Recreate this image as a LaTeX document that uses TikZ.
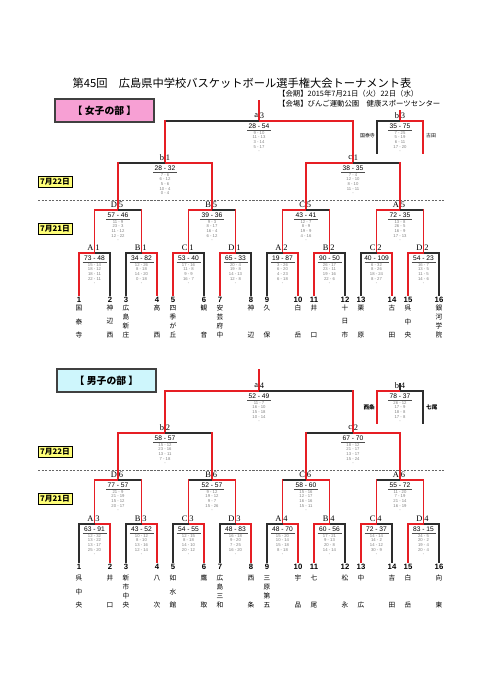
\documentclass[tikz,border=0pt]{standalone}
\usepackage{fontspec}
\setmainfont{Liberation Sans}
\newfontfamily\jpfont{Noto Sans CJK JP}
\newfontfamily\serfont{Liberation Serif}
\usepackage{tikz}
\usetikzlibrary{positioning, calc}

\definecolor{wred}{RGB}{230,30,36}
\definecolor{wgray}{RGB}{45,45,45}
\definecolor{pinkbox}{RGB}{247,160,212}
\definecolor{cyanbox}{RGB}{206,246,252}
\definecolor{daybox}{RGB}{255,255,120}

% bracket: centre, half width, y, foot, left/right bar, left/right leg
\newcommand{\bout}[8]{%
  \draw[bar, line cap=butt, #5] (#1-#2,#3) -- (#1,#3);
  \draw[bar, line cap=butt, #6] (#1,#3) -- (#1+#2,#3);
  \draw[bar, line cap=rect, #7] (#1-#2,#3) -- (#1-#2,#4);
  \draw[bar, line cap=rect, #8] (#1+#2,#3) -- (#1+#2,#4);}
% texts: centre, y, letter, number, score, quarters
\newcommand{\tally}[6]{%
  \node[tag, anchor=east] (l#3#4) at (#1-0.8,#2-5) {#3};
  \node[tag, anchor=west] (n#3#4) at (#1+0.8,#2-5) {#4};
  \node[score] (s#3#4) at (#1,#2+4.8) {#5};
  \draw[rule] (#1-12,#2+9) -- (#1+12,#2+9);
  \node[quart] (q#3#4) at (#1,#2+10.3) {#6};}

\begin{document}
\begin{tikzpicture}[x=0.5mm, y=-0.5mm,
  bar/.style={line width=1.7pt},
  tag/.style={font=\serfont\fontsize{12}{12}\selectfont, inner sep=0pt},
  score/.style={font=\fontsize{9.5}{9.5}\selectfont, inner sep=0pt},
  rule/.style={line width=0.5pt, black!70},
  quart/.style={anchor=north, align=center, inner sep=0pt, text=black!50, font=\fontsize{6}{6.5}\selectfont},
  num/.style={font=\bfseries\fontsize{11}{11}\selectfont, inner sep=0pt},
  kanji/.style={font=\jpfont\fontsize{9.5}{9.5}\selectfont, inner sep=0pt},
  day/.style={draw=black, line width=1pt, fill=daybox, inner sep=0pt, minimum width=17mm, minimum height=5.5mm, font=\jpfont\bfseries\fontsize{11}{11}\selectfont},
  sect/.style={draw=black!75, line width=2pt, minimum width=49.5mm, minimum height=11.5mm, font=\jpfont\bfseries\fontsize{14}{14}\selectfont},
  cut/.style={dash pattern=on 3pt off 2pt, line width=0.7pt, black!60},
  side/.style={font=\jpfont\fontsize{7}{7}\selectfont, inner sep=0pt},
  info/.style={font=\jpfont\fontsize{10.5}{10.5}\selectfont, inner sep=0pt, anchor=west}]
  \fill[white] (0,0) rectangle (481,680);
  \useasboundingbox (0,0) rectangle (481,680);

  % Title
  \node[font=\jpfont\fontsize{16}{16}\selectfont, inner sep=0pt] (head) at (242,83) {第45回　広島県中学校バスケットボール選手権大会トーナメント表};
  \node[info] (when) at (278,94) {【会期】2015年7月21日（火）22日（水）};
  \node[info] (where) at (278,104) {【会場】びんご運動公園　健康スポーツセンター};

  % Girls
  \node[sect, fill=pinkbox] (girls) at (104.5,110.5) {【 女子の部 】};
  \node[day] (g22) at (55,182) {7月22日};
  \node[day] (g21) at (55,228.5) {7月21日};
  \draw[cut] (38,200) -- (445,200);
  \draw[bar, wred] (259,100) -- (259,121);
  \draw[bar, wred] (400,110) -- (400,121);
  \node[side, anchor=east] (gl3) at (375,136) {国泰寺};
  \node[side, anchor=west] (gr3) at (426,136) {古田};

  \foreach \cx/\hw/\cy/\ft/\hl/\hr/\lt/\nr/\sc/\qs in {
    259/94/121/163/wgray/wred/a/3/28 - 54/{9 - 10\\11 - 13\\3 - 14\\5 - 17\\-},
    165/47/163/210/wgray/wred/b/1/28 - 32/{7 - 6\\6 - 12\\5 - 6\\10 - 4\\0 - 4},
    353/47/163/210/wred/wgray/c/1/38 - 35/{7 - 4\\12 - 10\\8 - 10\\11 - 11\\-},
    118/23.5/210/253/wred/wgray/D/5/57 - 46/{11 - 9\\23 - 3\\11 - 12\\12 - 22\\-},
    212/23.5/210/253/wred/wgray/B/5/39 - 36/{9 - 3\\8 - 17\\16 - 4\\6 - 12\\-},
    306/23.5/210/253/wred/wgray/C/5/43 - 41/{12 - 7\\8 - 9\\19 - 9\\4 - 16\\-},
    400/23.5/210/253/wred/wgray/A/5/72 - 35/{13 - 8\\26 - 5\\16 - 9\\17 - 13\\-}} {
    \bout{\cx}{\hw}{\cy}{\ft}{\hl}{\hr}{wred}{wred}
    \tally{\cx}{\cy}{\lt}{\nr}{\sc}{\qs}
  }
  \foreach \cx/\hw/\cy/\ft/\hl/\hr/\lt/\nr/\sc/\qs in {
    400/23/121/153/wgray/wred/b/3/35 - 75/{7 - 25\\5 - 19\\6 - 11\\17 - 20\\-},
    94.5/15.5/253/295/wred/wgray/A/1/73 - 48/{15 - 14\\18 - 12\\18 - 11\\22 - 11\\-},
    141.5/15.5/253/295/wgray/wred/B/1/34 - 82/{12 - 26\\8 - 18\\14 - 20\\0 - 18\\-},
    188.5/15.5/253/295/wred/wgray/C/1/53 - 40/{17 - 16\\11 - 8\\9 - 9\\16 - 7\\-},
    235.5/15.5/253/295/wred/wgray/D/1/65 - 33/{20 - 4\\19 - 8\\14 - 13\\12 - 8\\-},
    282.5/15.5/253/295/wgray/wred/A/2/19 - 87/{3 - 26\\6 - 20\\4 - 23\\6 - 18\\-},
    329.5/15.5/253/295/wred/wgray/B/2/90 - 50/{26 - 17\\23 - 11\\19 - 16\\22 - 6\\-},
    376.5/15.5/253/295/wgray/wred/C/2/40 - 109/{6 - 32\\8 - 26\\18 - 24\\8 - 27\\-},
    423.5/15.5/253/295/wred/wgray/D/2/54 - 23/{16 - 7\\13 - 5\\11 - 5\\14 - 6\\-}} {
    \bout{\cx}{\hw}{\cy}{\ft}{\hl}{\hr}{\hl}{\hr}
    \tally{\cx}{\cy}{\lt}{\nr}{\sc}{\qs}
  }
  \foreach \nm/\sp [count=\k] in {{国,泰,寺}/13.5, {神,辺,西}/13.5, {広,島,新,庄}/9, {高,西}/27,
      {四,季,が,丘}/9, {観,音}/27, {安,芸,府,中}/9, {神,辺}/27, {久,保}/27, {白,岳}/27,
      {井,口}/27, {十,日,市}/13.5, {栗,原}/27, {古,田}/27, {呉,中,央}/13.5, {銀,河,学,院}/9} {
    \pgfmathsetmacro\lx{79+47*floor((\k-1)/2)+31*mod(\k-1,2)}
    \node[num] (gw\k) at (\lx,299.5) {\k};
    \foreach \c [count=\i] in \nm
      \node[kanji] (gw\k-\i) at (\lx,{308+(\i-1)*\sp}) {\c};
  }

  % Boys
  \node[sect, fill=cyanbox] (boys) at (106.5,380.5) {【 男子の部 】};
  \node[day] (b22) at (55,452) {7月22日};
  \node[day] (b21) at (55,499) {7月21日};
  \draw[cut] (38,470) -- (445,470);
  \draw[bar, wred] (259,369) -- (259,391);
  \draw[bar, wgray] (400,383) -- (400,391);
  \node[side, font=\jpfont\bfseries\fontsize{8}{8}\selectfont, anchor=east] (bl4) at (375,407) {西条};
  \node[side, font=\jpfont\bfseries\fontsize{8}{8}\selectfont, anchor=west] (br4) at (426,407) {七尾};

  \foreach \cx/\hw/\cy/\ft/\hl/\hr/\lt/\nr/\sc/\qs in {
    259/94/391/433/wred/wgray/a/4/52 - 49/{11 - 7\\16 - 10\\15 - 18\\10 - 14\\-},
    165/47/433/480/wred/wgray/b/2/58 - 57/{15 - 12\\23 - 16\\13 - 11\\7 - 18\\-},
    353/47/433/480/wgray/wred/c/2/67 - 70/{18 - 12\\21 - 17\\13 - 17\\15 - 24\\-},
    118/23.5/480/524/wred/wgray/D/6/77 - 57/{21 - 9\\21 - 19\\15 - 12\\20 - 17\\-},
    212/23.5/480/524/wgray/wred/B/6/52 - 57/{9 - 12\\19 - 12\\9 - 7\\15 - 26\\-},
    306/23.5/480/524/wgray/wred/C/6/58 - 60/{15 - 16\\12 - 17\\16 - 16\\15 - 11\\-},
    400/23.5/480/524/wgray/wred/A/6/55 - 72/{11 - 20\\7 - 19\\21 - 14\\16 - 19\\-}} {
    \bout{\cx}{\hw}{\cy}{\ft}{\hl}{\hr}{wred}{wred}
    \tally{\cx}{\cy}{\lt}{\nr}{\sc}{\qs}
  }
  \foreach \cx/\hw/\cy/\ft/\hl/\hr/\lt/\nr/\sc/\qs in {
    400/23/391/423/wred/wgray/b/4/78 - 37/{26 - 12\\17 - 9\\18 - 8\\17 - 8\\-},
    94.5/15.5/524/562/wgray/wred/A/3/63 - 91/{12 - 32\\13 - 22\\13 - 17\\25 - 20\\-},
    141.5/15.5/524/562/wgray/wred/B/3/43 - 52/{10 - 12\\8 - 10\\13 - 16\\12 - 14\\-},
    188.5/15.5/524/562/wgray/wred/C/3/54 - 55/{12 - 15\\8 - 18\\14 - 10\\20 - 12\\-},
    235.5/15.5/524/562/wgray/wred/D/3/48 - 83/{16 - 18\\9 - 20\\7 - 25\\16 - 20\\-},
    282.5/15.5/524/562/wgray/wred/A/4/48 - 70/{15 - 20\\10 - 14\\15 - 18\\8 - 18\\-},
    329.5/15.5/524/562/wred/wgray/B/4/60 - 56/{17 - 21\\9 - 13\\20 - 8\\14 - 14\\-},
    376.5/15.5/524/562/wred/wgray/C/4/72 - 37/{14 - 14\\14 - 2\\14 - 12\\30 - 9\\-},
    423.5/15.5/524/562/wred/wgray/D/4/83 - 15/{24 - 5\\20 - 2\\19 - 4\\20 - 4\\-}} {
    \bout{\cx}{\hw}{\cy}{\ft}{\hl}{\hr}{\hl}{\hr}
    \tally{\cx}{\cy}{\lt}{\nr}{\sc}{\qs}
  }
  \foreach \nm/\sp [count=\k] in {{呉,中,央}/13.5, {井,口}/27, {新,市,中,央}/9, {八,次}/27,
      {如,水,館}/13.5, {鷹,取}/27, {広,島,三,和}/9, {西,条}/27, {三,原,第,五}/9, {宇,品}/27,
      {七,尾}/27, {松,永}/27, {中,広}/27, {吉,田}/27, {白,岳}/27, {向,東}/27} {
    \pgfmathsetmacro\lx{79+47*floor((\k-1)/2)+31*mod(\k-1,2)}
    \node[num] (bw\k) at (\lx,567) {\k};
    \foreach \c [count=\i] in \nm
      \node[kanji] (bw\k-\i) at (\lx,{578+(\i-1)*\sp}) {\c};
  }
\end{tikzpicture}
\end{document}
